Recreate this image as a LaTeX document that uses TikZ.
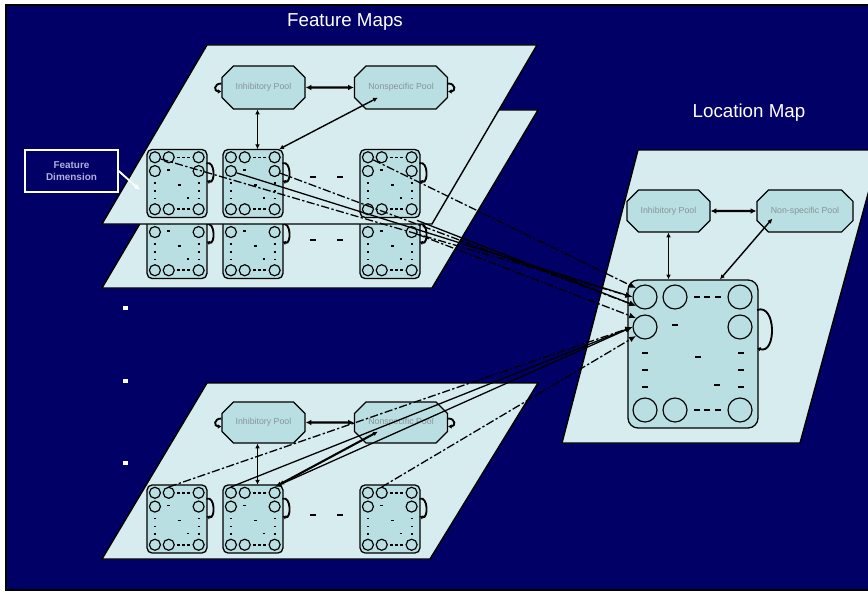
\documentclass[tikz,border=0pt]{standalone}
\usepackage{fontspec}
\setmainfont{Liberation Sans}
\usetikzlibrary{arrows.meta,shapes.misc,calc}
\definecolor{navybg}{RGB}{0,0,102}
\definecolor{planefill}{RGB}{214,236,239}
\definecolor{poolfill}{RGB}{185,223,227}
\definecolor{pooltext}{RGB}{135,148,152}
\definecolor{dimtext}{RGB}{175,175,225}

\tikzset{
  x=0.3mm, y=-0.3mm,
  plane/.style={fill=planefill, draw=black, line width=1.2pt},
  pool/.style={chamfered rectangle, chamfered rectangle xsep=2.2mm,
    chamfered rectangle ysep=2.2mm, draw=black, line width=1pt, fill=poolfill,
    inner sep=0pt, minimum height=12.9mm, text=pooltext,
    font=\fontsize{7.5}{8}\selectfont},
  fbox/.style={draw=black, line width=1.1pt, fill=poolfill, rounded corners=3mm, inner sep=0pt},
  fcirc/.style={circle, draw=black, line width=1pt, fill=poolfill, inner sep=0pt, minimum size=7.2mm},
  fdot/.style={line width=1.3pt},
  pair/.style={line width=1.8pt, {Latex[length=5pt,width=5pt]}-{Latex[length=5pt,width=5pt]}},
  vpair/.style={line width=1.2pt, {Latex[length=4pt,width=4pt]}-{Latex[length=4pt,width=4pt]}},
  loopy/.style={line width=1.6pt, -{Latex[length=3pt,width=4pt]}},
  link/.style={line width=1.1pt, -{Latex[length=6pt,width=5pt]}},
  linkd/.style={link, dash pattern=on 7pt off 2pt on 2pt off 2pt},
  title/.style={text=white, font=\fontsize{16}{18}\selectfont, inner sep=0pt},
  dimbox/.style={draw=white, line width=1.2pt, minimum width=27.9mm, minimum height=12.6mm,
    align=center, text=dimtext, inner sep=0pt, font=\fontsize{8.5}{10}\selectfont\bfseries},
  % one map of units: rounded frame, corner units, elided rows and a recurrent loop
  fmap/.pic={
    \node[fbox, minimum width=39mm, minimum height=44.4mm, transform shape] (-box) at (0,0) {};
    \draw[loopy] (64,-44) to[out=20,in=-20,looseness=1.4] (64,-6);
    \foreach \n/\cx/\cy in {c1/-48/-57, c2/-18/-57, c3/47/-57, c4/-48/-27,
                            c5/47/-27, c6/-48/56, c7/-18/56, c8/47/56}
      \node[fcirc, transform shape] (-\n) at (\cx,\cy) {};
    \foreach \dx/\dy in {4/-57, 14/-57, 25/-57, 4/56, 14/56, 25/56,
                         -48/-1, -48/16, -48/33, 48/-1, 48/16, 48/33,
                         -18/-29, 5/3, 24/31}
      \draw[fdot] (\dx-3,\dy) -- (\dx+3,\dy);
  }
}

\begin{document}
\begin{tikzpicture}
\useasboundingbox (0,0) rectangle (868,595);
% page and dark backdrop
\fill[white] (0,0) rectangle (868,595);
\filldraw[fill=navybg, draw=black, line width=1.6pt] (6,5) rectangle (880,590);

% ---------- feature maps: rear sheet ----------
\filldraw[plane] (207,110) -- (538,110) -- (432,288) -- (102,288) -- cycle;
\pic[scale=0.46, fbox/.append style={rounded corners=1.5mm}] (s1) at (177,244.5) {fmap};
\pic[scale=0.46, fbox/.append style={rounded corners=1.5mm}] (s2) at (253,244.5) {fmap};
\pic[scale=0.46, fbox/.append style={rounded corners=1.5mm}] (s3) at (390,244.5) {fmap};
\foreach \dx in {313,340} \draw[fdot] (\dx-3,240) -- (\dx+3,240);

% ---------- feature maps: front sheet ----------
\filldraw[plane] (207,45) -- (537,45) -- (432,224) -- (102,224) -- cycle;
\node[pool, minimum width=24.9mm] (ti) at (263.5,87.5) {Inhibitory Pool};
\node[pool, minimum width=27.9mm] (tn) at (401,87.5) {Nonspecific Pool};
\pic[scale=0.46, fbox/.append style={rounded corners=1.5mm}] (t1) at (177,183.5) {fmap};
\pic[scale=0.46, fbox/.append style={rounded corners=1.5mm}] (t2) at (253,183.5) {fmap};
\pic[scale=0.46, fbox/.append style={rounded corners=1.5mm}] (t3) at (390,183.5) {fmap};
\foreach \dx in {313,340} \draw[fdot] (\dx-3,177) -- (\dx+3,177);
\draw[pair] (ti) -- (tn);
\draw[loopy] ([yshift=1.2mm]ti.west) to[out=180,in=180,looseness=2.5] ([yshift=-1.2mm]ti.west);
\draw[loopy] ([yshift=1.2mm]tn.east) to[out=0,in=0,looseness=2.5] ([yshift=-1.2mm]tn.east);
\coordinate (tia) at ($(ti.south)+(-6,0)$);
\coordinate (tib) at (tia |- t2-box.north);
\draw[vpair] (tia) -- (tib);
\draw[vpair] ($(tn.south west)+(18,-6)$) -- ($(t2-box.north east)+(-4,0)$);

% ---------- feature maps: lower sheet ----------
\filldraw[plane] (207,383) -- (538,383) -- (430,559) -- (102,559) -- cycle;
\node[pool, minimum width=24.9mm, minimum height=12.3mm] (bi) at (263.5,422.5) {Inhibitory Pool};
\node[pool, minimum width=27.9mm, minimum height=12.3mm] (bn) at (401,422.5) {Nonspecific Pool};
\pic[scale=0.46, fbox/.append style={rounded corners=1.5mm}] (b1) at (177,519) {fmap};
\pic[scale=0.46, fbox/.append style={rounded corners=1.5mm}] (b2) at (253,519) {fmap};
\pic[scale=0.46, fbox/.append style={rounded corners=1.5mm}] (b3) at (390,519) {fmap};
\foreach \dx in {313,340} \draw[fdot] (\dx-3,515) -- (\dx+3,515);
\draw[pair] (bi) -- (bn);
\draw[loopy] ([yshift=1.2mm]bi.west) to[out=180,in=180,looseness=2.5] ([yshift=-1.2mm]bi.west);
\draw[loopy] ([yshift=1.2mm]bn.east) to[out=0,in=0,looseness=2.5] ([yshift=-1.2mm]bn.east);
\coordinate (bia) at ($(bi.south)+(-6,0)$);
\coordinate (bib) at (bia |- b2-box.north);
\draw[vpair] (bia) -- (bib);
\draw[vpair, line width=1.8pt] ($(bn.south west)+(18,-6)$) -- ($(b2-box.north east)+(-4,0)$);

% ---------- location map ----------
\filldraw[plane] (638,150) -- (880,150) -- (800,443) -- (562,443) -- cycle;
\node[pool, minimum width=24.9mm, minimum height=12.6mm] (li) at (668.5,211) {Inhibitory Pool};
\node[pool, minimum width=28.8mm, minimum height=12.6mm] (ln) at (805,211) {Non-specific Pool};
\pic[fbox/.append style={rounded corners=3mm}] (L) at (693,354) {fmap};
\draw[pair] (li) -- (ln);
\coordinate (lia) at (li.south);
\coordinate (lib) at (lia |- L-box.north);
\draw[vpair] (lia) -- (lib);
\draw[vpair] ($(ln.south west)+(10,-8)$) -- ($(L-box.north)+(27,0)$);

% ---------- feature maps to location map ----------
\draw[linkd] (t1-c1) -- (L-c1.west);
\draw[link]  (t2-c4) -- (L-c1.west);
\draw[linkd] (t2-c5) -- (L-c1.south west);
\draw[linkd] (t3-c1) -- (L-c1.north west);
\draw[link]  (s3-c3) -- (L-c1.south west);
\draw[linkd] (s3-c5) -- (L-c4.north west);
\draw[linkd] (b1-c2.north) -- (L-c4.west);
\draw[link]  (b2-c1.north) -- (L-c4.west);
\draw[link, {Latex[length=6pt,width=5pt]}-{Latex[length=6pt,width=5pt]}] (b2-c3.north) -- (L-c4.west);
\draw[linkd] (b3-c2.north) -- (L-c4.south west);

% ---------- labels ----------
\node[title] (fm) at (345,22) {Feature Maps};
\node[title] (lm) at (749,113) {Location Map};
\node[dimbox] (fd) at (71.5,171) {Feature\\Dimension};
\coordinate (fdtip) at (140,190);
\draw[white, line width=1.6pt, -{Latex[length=5pt,width=5pt]}] (fd.east) -- (fdtip);

% elision marks between the sheets
\foreach \dy in {308,381,463} \fill[white] (123,\dy-2) rectangle (128,\dy+2);
\end{tikzpicture}
\end{document}
